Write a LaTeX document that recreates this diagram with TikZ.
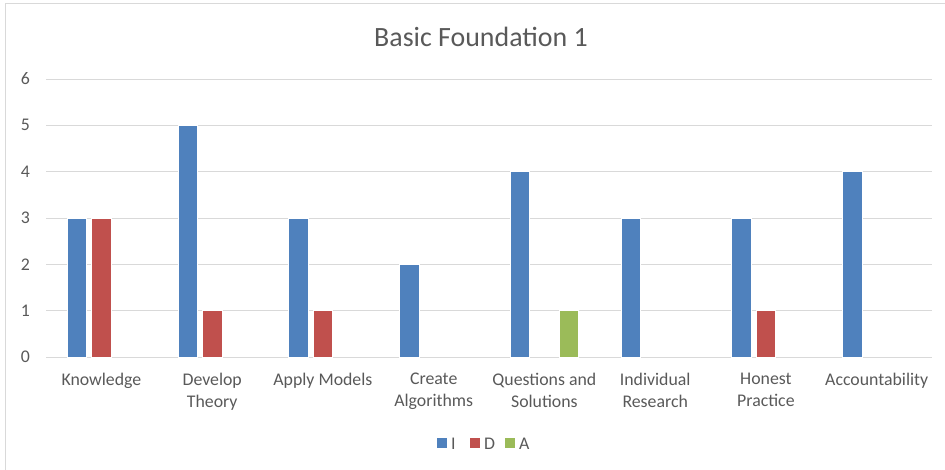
\documentclass[tikz,border=0pt]{standalone}
\usepackage{fontspec}
\setmainfont{Carlito}
\usepackage{xcolor}
\definecolor{seriesI}{HTML}{4F81BD}
\definecolor{seriesD}{HTML}{C0504D}
\definecolor{seriesA}{HTML}{9BBB59}
\definecolor{gridgray}{HTML}{D9D9D9}
\definecolor{textgray}{HTML}{595959}
\tikzset{
  gridline/.style = {draw=gridgray, line width=1pt},
  barI/.style = {fill=seriesI, draw=white, line width=0.4pt},
  barD/.style = {fill=seriesD, draw=white, line width=0.4pt},
  barA/.style = {fill=seriesA, draw=white, line width=0.4pt},
  ticklabel/.style = {text=textgray, font=\fontsize{17.8}{22}\selectfont, anchor=east, inner sep=0pt},
  catlabel/.style = {text=textgray, font=\fontsize{17.8}{22}\selectfont, align=center, anchor=north, inner sep=0pt},
  legendkey/.style = {minimum size=10pt, inner sep=0pt}
}

\begin{document}
\begin{tikzpicture}[x=1pt, y=-1pt]
\useasboundingbox (0,0) rectangle (945,470);
% chart frame
\draw[gridgray, line width=1pt] (5,470) -- (5,4) -- (945,4);
\node[text=textgray, font=\fontsize{27.9}{32}\selectfont, anchor=base] (title) at (481,47) {Basic Foundation 1};
% gridlines and tick labels
\foreach \v in {0,...,6}{
  \draw[gridline] (46,357-46.33*\v) -- (932,357-46.33*\v);
  \node[ticklabel] (tick\v) at (30,357-46.33*\v) {\v};
}
% bars: category, I, D, A
\foreach \c/\i/\d/\a in {0/3/3/0, 1/5/1/0, 2/3/1/0, 3/2/0/0, 4/4/0/1, 5/3/0/0, 6/3/1/0, 7/4/0/0}{
  \pgfmathsetmacro{\cx}{101.4+110.75*\c}
  \ifnum\i>0 \fill[barI] (\cx-34.25,357) rectangle (\cx-14.75,357-46.33*\i); \fi
  \ifnum\d>0 \fill[barD] (\cx-9.75,357) rectangle (\cx+9.75,357-46.33*\d); \fi
  \ifnum\a>0 \fill[barA] (\cx+14.75,357) rectangle (\cx+34.25,357-46.33*\a); \fi
}
% category labels
\node[catlabel] (knowledge) at (101.4,373) {Knowledge};
\node[catlabel] (develop) at (212.2,373) {Develop\\Theory};
\node[catlabel] (apply) at (322.9,373) {Apply Models};
\node[catlabel] (create) at (433.7,373) {Create\\Algorithms};
\node[catlabel] (questions) at (544.4,373) {Questions and\\Solutions};
\node[catlabel] (individual) at (655.2,373) {Individual\\Research};
\node[catlabel] (honest) at (765.9,373) {Honest\\Practice};
\node[catlabel] (account) at (876.7,373) {Accountability};
% legend
\node[legendkey, fill=seriesI] (keyI) at (442,443) {};
\node[catlabel, anchor=base west] (legI) at (451,449) {I};
\node[legendkey, fill=seriesD] (keyD) at (475,443) {};
\node[catlabel, anchor=base west] (legD) at (484,449) {D};
\node[legendkey, fill=seriesA] (keyA) at (510,443) {};
\node[catlabel, anchor=base west] (legA) at (519,449) {A};
\end{tikzpicture}
\end{document}
